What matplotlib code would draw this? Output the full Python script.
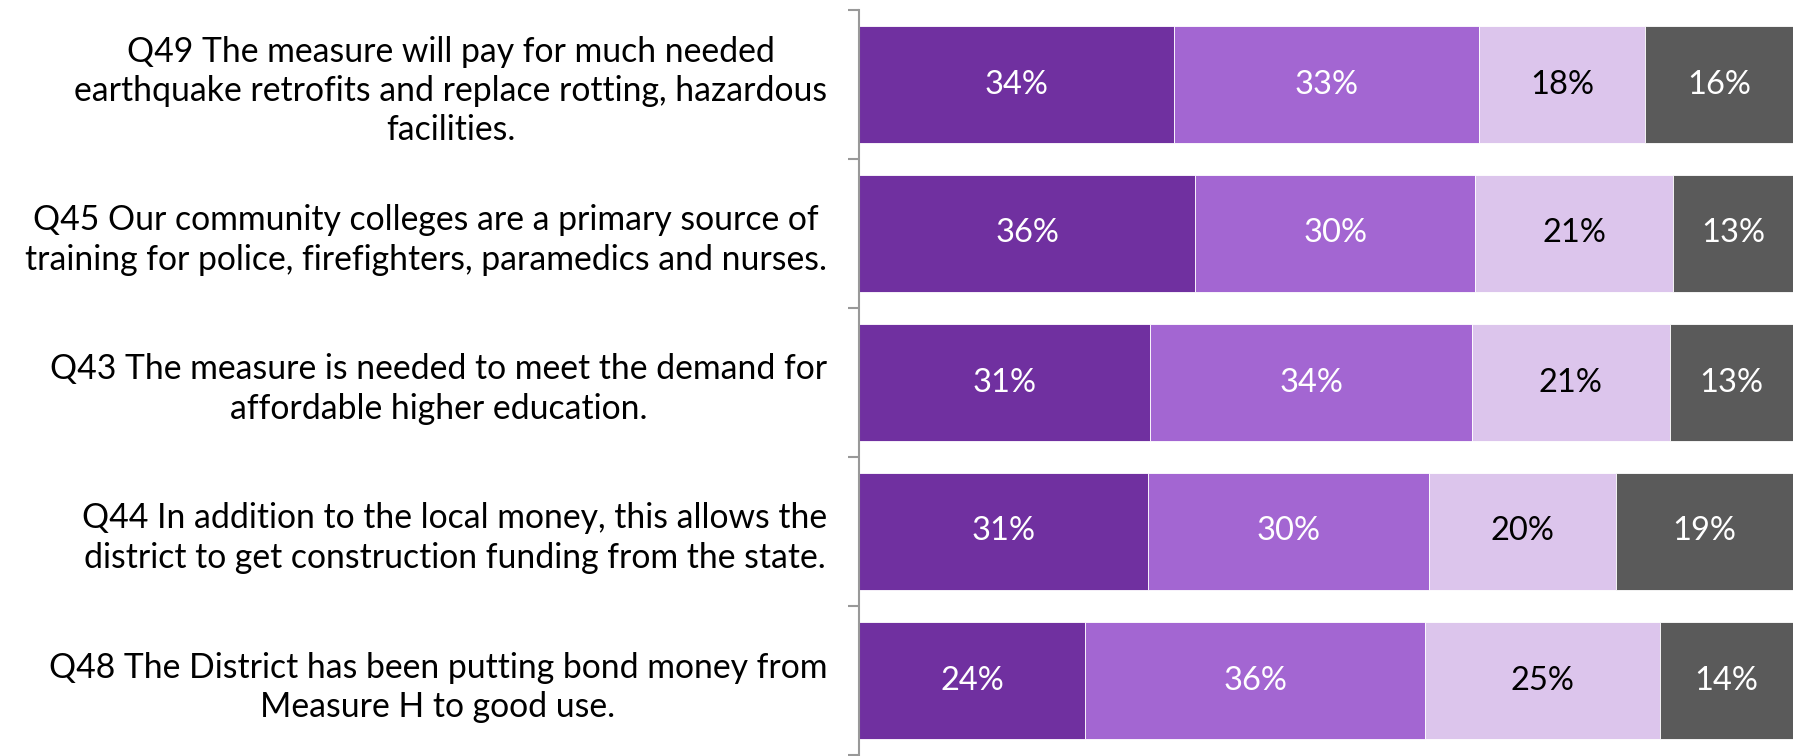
import matplotlib
matplotlib.use("Agg")
import matplotlib.pyplot as plt
import numpy as np

categories = [
    "Q49 The measure will pay for much needed\nearthquake retrofits and replace rotting, hazardous\nfacilities.",
    "Q45 Our community colleges are a primary source of\ntraining for police, firefighters, paramedics and nurses.",
    "Q43 The measure is needed to meet the demand for\naffordable higher education.",
    "Q44 In addition to the local money, this allows the\ndistrict to get construction funding from the state.",
    "Q48 The District has been putting bond money from\nMeasure H to good use.",
]
seg1 = [33.7, 36.0, 31.2, 30.9, 24.2]
seg2 = [32.7, 30.0, 34.4, 30.1, 36.4]
seg3 = [17.8, 21.1, 21.2, 20.0, 25.2]
seg4 = [15.8, 13.0, 13.2, 19.0, 14.2]

colors = ["#7030A0", "#A366D2", "#DCC5EC", "#5A5A5A"]
text_colors = ["white", "white", "black", "white"]

plt.rcParams['font.family'] = ['Lato', 'DejaVu Sans']

fig = plt.figure(figsize=(17.93, 7.56), dpi=100)
ax = fig.add_axes([859/1793, 1/756, 1 - 859/1793, 1 - 11/756])

y = np.arange(len(categories))
left = np.zeros(len(categories))
for vals, c, tc in zip([seg1, seg2, seg3, seg4], colors, text_colors):
    vals = np.array(vals)
    ax.barh(y, vals, left=left, height=0.78, color=c, edgecolor="white", linewidth=0.6)
    for yi, l, v in zip(y, left, vals):
        ax.text(l + v / 2, yi, f"{round(v):d}%", ha="center", va="center",
                color=tc, fontsize=23.5)
    left += vals

ax.set_xlim(0, 100)
ax.set_ylim(len(categories) - 0.5, -0.5)
ax.set_yticks(y)
ax.set_yticklabels(categories, fontsize=24.3, multialignment="center", linespacing=1.27)
ax.set_yticks(np.arange(-0.5, len(categories) + 0.5, 1), minor=True)
ax.tick_params(axis="y", which="major", length=0, pad=23, labelcolor="black")
ax.tick_params(axis="y", which="minor", length=8, width=1.5, color="#999999", direction="out")
ax.set_xticks([])
for s in ["top", "right", "bottom"]:
    ax.spines[s].set_visible(False)
ax.spines["left"].set_color("#999999")
ax.spines["left"].set_linewidth(1.5)

fig.savefig("out.png", dpi=100)
